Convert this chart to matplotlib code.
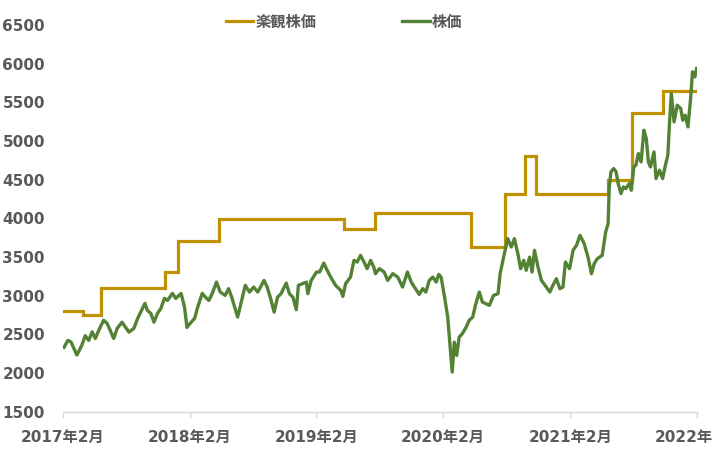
import matplotlib
matplotlib.use("Agg")
import matplotlib.pyplot as plt
import matplotlib.dates as mdates
import pandas as pd

# ---- data ----
step_dates = ["2017-02-01", "2017-03-30", "2017-05-21", "2017-11-21", "2017-12-28",
              "2018-04-27", "2019-04-21", "2019-07-21", "2020-04-21", "2020-07-27",
              "2020-09-25", "2020-10-26", "2021-05-22", "2021-07-28", "2021-10-25",
              "2022-02-01"]
step_values = [2800, 2750, 3100, 3300, 3700, 3990, 3860, 4070, 3630, 4310,
               4800, 4310, 4500, 5360, 5650, 5650]

price_dates = [
    "2017-02-04", "2017-02-15", "2017-02-24", "2017-03-04", "2017-03-13", "2017-03-27",
    "2017-04-06", "2017-04-16", "2017-04-26", "2017-05-05", "2017-05-19", "2017-05-29",
    "2017-06-08", "2017-06-17", "2017-06-27", "2017-07-07", "2017-07-21", "2017-07-31",
    "2017-08-10", "2017-08-24", "2017-09-04", "2017-09-18", "2017-09-25", "2017-10-02",
    "2017-10-12", "2017-10-21", "2017-10-31", "2017-11-10", "2017-11-20", "2017-11-29",
    "2017-12-13", "2017-12-23", "2018-01-07", "2018-01-17", "2018-01-24", "2018-02-05",
    "2018-02-15", "2018-02-24", "2018-03-09", "2018-03-18", "2018-03-28", "2018-04-07",
    "2018-04-19", "2018-04-30", "2018-05-14", "2018-05-24", "2018-06-03", "2018-06-19",
    "2018-07-02", "2018-07-11", "2018-07-23", "2018-08-04", "2018-08-16", "2018-09-03",
    "2018-09-12", "2018-09-22", "2018-10-02", "2018-10-12", "2018-10-22", "2018-11-06",
    "2018-11-15", "2018-11-25", "2018-12-05", "2018-12-11", "2018-12-23", "2019-01-03",
    "2019-01-07", "2019-01-17", "2019-02-01", "2019-02-10", "2019-02-22", "2019-03-04",
    "2019-03-14", "2019-03-28", "2019-04-12", "2019-04-18", "2019-04-26", "2019-05-10",
    "2019-05-20", "2019-05-29", "2019-06-08", "2019-06-18", "2019-06-27", "2019-07-07",
    "2019-07-16", "2019-07-21", "2019-08-01", "2019-08-15", "2019-08-25", "2019-09-09",
    "2019-09-23", "2019-10-07", "2019-10-21", "2019-11-01", "2019-11-10", "2019-11-24",
    "2019-12-04", "2019-12-13", "2019-12-23", "2020-01-02", "2020-01-12", "2020-01-19",
    "2020-01-26", "2020-02-05", "2020-02-14", "2020-02-21", "2020-02-27", "2020-03-04",
    "2020-03-11", "2020-03-18", "2020-03-27", "2020-04-07", "2020-04-16", "2020-04-26",
    "2020-05-05", "2020-05-15", "2020-05-24", "2020-06-03", "2020-06-13", "2020-06-25",
    "2020-07-08", "2020-07-14", "2020-07-24", "2020-08-05", "2020-08-15", "2020-08-24",
    "2020-09-03", "2020-09-11", "2020-09-20", "2020-09-27", "2020-10-07", "2020-10-14",
    "2020-10-21", "2020-10-31", "2020-11-10", "2020-11-24", "2020-12-04", "2020-12-13",
    "2020-12-23", "2021-01-02", "2021-01-11", "2021-01-18", "2021-01-30", "2021-02-09",
    "2021-02-19", "2021-03-01", "2021-03-13", "2021-03-24", "2021-04-03", "2021-04-11",
    "2021-04-20", "2021-05-04", "2021-05-14", "2021-05-21", "2021-05-24", "2021-05-29",
    "2021-06-06", "2021-06-13", "2021-06-19", "2021-06-27", "2021-07-04", "2021-07-11",
    "2021-07-21", "2021-07-27", "2021-08-03", "2021-08-09", "2021-08-16", "2021-08-24",
    "2021-09-01", "2021-09-08", "2021-09-14", "2021-09-20", "2021-09-30", "2021-10-06",
    "2021-10-16", "2021-10-25", "2021-11-02", "2021-11-09", "2021-11-14", "2021-11-19",
    "2021-11-27", "2021-12-06", "2021-12-16", "2021-12-22", "2021-12-29", "2022-01-06",
    "2022-01-14", "2022-01-19", "2022-01-26", "2022-01-31"]
price_values = [
    2330, 2420, 2400, 2320, 2230, 2355,
    2480, 2420, 2530, 2445, 2590, 2680,
    2640, 2550, 2445, 2575, 2656, 2590,
    2527, 2575, 2704, 2834, 2899, 2808,
    2769, 2656, 2769, 2834, 2963, 2937,
    3028, 2963, 3028, 2851, 2588, 2656,
    2704, 2851, 3028, 2980, 2937, 3028,
    3174, 3045, 3002, 3089, 2963, 2721,
    2963, 3132, 3045, 3110, 3045, 3196,
    3110, 2963, 2786, 2980, 3024, 3161,
    3024, 2980, 2817, 3132, 3154, 3174,
    3024, 3196, 3304, 3304, 3420, 3326,
    3239, 3132, 3067, 2989, 3154, 3239,
    3455, 3433, 3520, 3433, 3348, 3455,
    3369, 3283, 3348, 3304, 3196, 3283,
    3239, 3110, 3304, 3174, 3110, 3015,
    3089, 3045, 3196, 3239, 3174, 3274,
    3239, 2980, 2721, 2333, 2010, 2397,
    2225, 2462, 2506, 2590, 2680, 2721,
    2895, 3045, 2915, 2895, 2873, 3002,
    3024, 3283, 3498, 3736, 3628, 3736,
    3542, 3348, 3455, 3326, 3498, 3304,
    3585, 3369, 3196, 3110, 3045, 3132,
    3218, 3089, 3110, 3433, 3348, 3585,
    3650, 3779, 3672, 3498, 3283, 3413,
    3477, 3520, 3822, 3931, 4384, 4599,
    4643, 4599, 4449, 4319, 4405, 4384,
    4449, 4362, 4664, 4686, 4837, 4728,
    5139, 5031, 4728, 4664, 4858, 4513,
    4621, 4513, 4686, 4815, 5246, 5614,
    5246, 5463, 5420, 5268, 5333, 5182,
    5570, 5894, 5829, 5938]

tick_dates = ["2017-02-01", "2018-02-01", "2019-02-01", "2020-02-01", "2021-02-01", "2022-02-01"]
tick_labels = ["2017年2月", "2018年2月", "2019年2月", "2020年2月", "2021年2月", "2022年2月"]
y_ticks = [1500, 2000, 2500, 3000, 3500, 4000, 4500, 5000, 5500, 6000, 6500]
series_names = ["楽観株価", "株価"]

# ---- plot ----
fam = ["DejaVu Sans", "Noto Sans CJK JP"]
plt.rcParams["font.family"] = fam
text_color = "#595959"

fig = plt.figure(figsize=(7.13, 4.59), dpi=100)
ax = fig.add_axes([63 / 713, 1 - 411.5 / 459, (697 - 63) / 713, (411.5 - 25) / 459])

sd = pd.to_datetime(step_dates)
pdts = pd.to_datetime(price_dates)
ax.plot(sd, step_values, drawstyle="steps-post", color="#BF9000", lw=2.3,
        label=series_names[0], solid_joinstyle="miter")
ax.plot(pdts, price_values, color="#548235", lw=2.4, label=series_names[1],
        solid_joinstyle="round")

ax.set_xlim(pd.Timestamp(tick_dates[0]), pd.Timestamp(tick_dates[-1]))
ax.set_ylim(y_ticks[0], y_ticks[-1])
ax.set_yticks(y_ticks)
ax.set_yticklabels([str(v) for v in y_ticks])
ax.set_xticks(pd.to_datetime(tick_dates))
ax.set_xticklabels(tick_labels)

for s in ["top", "right", "left"]:
    ax.spines[s].set_visible(False)
ax.spines["bottom"].set_color("#D9D9D9")
ax.spines["bottom"].set_linewidth(1.0)

ax.tick_params(axis="y", length=0, pad=13)
ax.tick_params(axis="x", length=4, width=1.0, color="#D9D9D9", pad=9, direction="out")
for lab in ax.get_yticklabels() + ax.get_xticklabels():
    lab.set_fontweight("bold")
    lab.set_fontsize(11)
    lab.set_color(text_color)
    lab.set_family(fam)
for lab in ax.get_xticklabels():
    lab.set_clip_on(False)

leg = fig.legend(loc="center", bbox_to_anchor=(344 / 713, 1 - 22 / 459), ncol=2,
                 frameon=False, handlelength=1.8, handletextpad=0.15, columnspacing=5.6,
                 prop={"family": fam, "weight": "bold", "size": 11})
for t in leg.get_texts():
    t.set_color(text_color)

fig.savefig("out.png", dpi=100)
